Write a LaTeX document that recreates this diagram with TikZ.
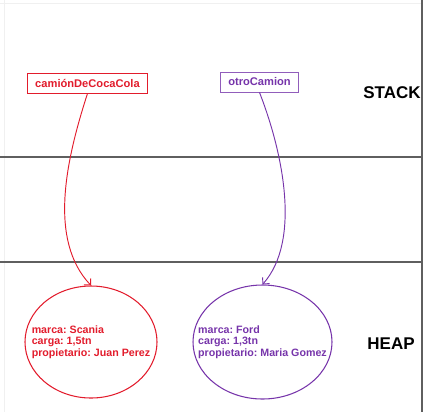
\documentclass[tikz,border=0pt]{standalone}
\usepackage{fontspec}
\setmainfont{Liberation Sans}
\usetikzlibrary{shapes.geometric,arrows.meta}
\definecolor{cocared}{RGB}{226,28,44}
\definecolor{otropurple}{RGB}{118,52,170}
\definecolor{divider}{RGB}{95,95,95}

\begin{document}
\frenchspacing
\begin{tikzpicture}[x=0.03cm, y=-0.03cm, font=\bfseries]
  \tikzstyle{varbox}=[draw, fill=white, line width=0.8pt, minimum height=0.6cm,
    inner xsep=0.24cm, inner ysep=0pt, font=\fontsize{9.5}{11}\bfseries]
  \tikzstyle{object}=[ellipse, draw, line width=0.9pt, inner sep=0pt]
  \tikzstyle{fields}=[align=left, inner sep=0pt, font=\fontsize{9.1}{9.6}\bfseries]
  \tikzstyle{zone}=[font=\fontsize{14.5}{16}\bfseries]
  \tikzstyle{ref}=[-{Straight Barb[length=4pt,width=8pt]}, line width=0.8pt]

  \useasboundingbox (0,0) rectangle (426,412);

  % faint frame
  \draw[black!6] (0,3) -- (422,3);
  \draw[black!6] (4,0) -- (4,412);

  % memory areas
  \foreach \y in {157,262}
    \draw[divider, line width=1.2pt] (0,\y) -- (422,\y);
  \draw[divider, line width=1.2pt] (422,0) -- (422,412);

  \node[zone] (stack) at (392,93) {STACK};
  \node[zone] (heap) at (391,344) {HEAP};

  % variables
  \node[varbox, draw=cocared, text=cocared] (coca) at (87.5,83) {camiónDeCocaCola};
  \node[varbox, draw=otropurple!80, text=otropurple] (otro) at (259.5,82) {otroCamion};

  % objects
  \node[object, draw=cocared, minimum width=3.96cm, minimum height=3.36cm] (cocaobj) at (91,342) {};
  \node[fields, text=cocared] (cocadata) at (cocaobj.center)
    {marca: Scania\\carga: 1,5tn\\propietario: Juan Perez};
  \node[object, draw=otropurple, minimum width=4.17cm, minimum height=3.42cm] (otroobj) at (262.5,342) {};
  \node[fields, text=otropurple] (otrodata) at (otroobj.center)
    {marca: Ford\\carga: 1,3tn\\propietario: Maria Gomez};

  % references
  \draw[ref, cocared] (coca.south) .. controls (66,160) and (48,240) .. (cocaobj.north);
  \draw[ref, otropurple] (otro.south) .. controls (282,150) and (302,240) .. (otroobj.north);
\end{tikzpicture}
\end{document}
